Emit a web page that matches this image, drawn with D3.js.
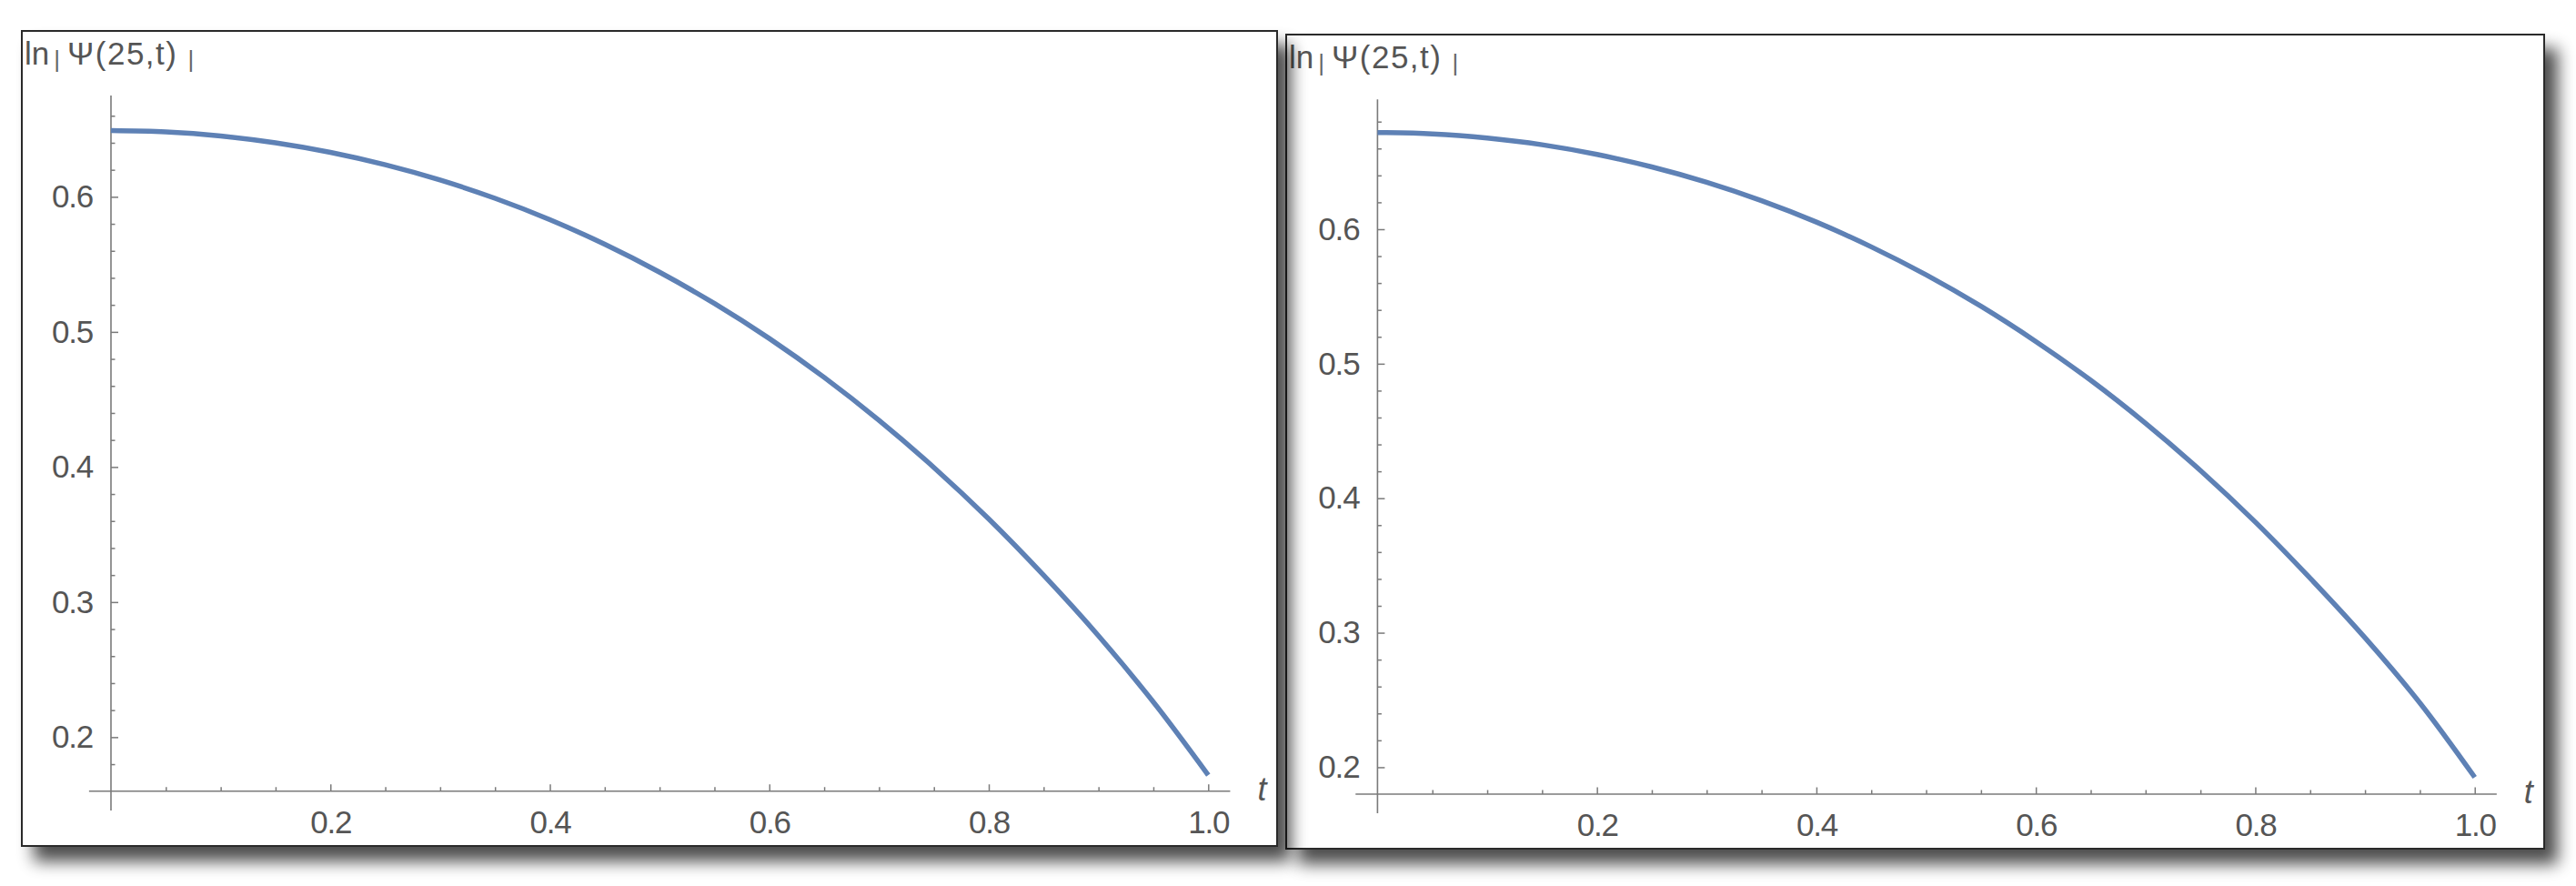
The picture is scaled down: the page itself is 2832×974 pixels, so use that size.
<!DOCTYPE html>
<html>
<head>
<meta charset="utf-8">
<script src="https://cdnjs.cloudflare.com/ajax/libs/d3/7.8.5/d3.min.js"></script>
<style>
  html, body { margin: 0; padding: 0; background: #ffffff; }
  svg { display: block; }
  text { font-family: "Liberation Sans", Arial, sans-serif; }
</style>
</head>
<body>
<svg id="chart" width="2832" height="974"></svg>
<script>
// ---------- data ----------
const tValues = [0, 0.05, 0.1, 0.15, 0.2, 0.25, 0.3, 0.35, 0.4, 0.45, 0.5, 0.55, 0.6, 0.65, 0.7, 0.75, 0.8, 0.85, 0.9, 0.95, 1.0];
const vLeft  = [0.649, 0.648, 0.645, 0.640, 0.6329, 0.6237, 0.6124, 0.5989, 0.5831, 0.5649, 0.5442, 0.521, 0.4951, 0.4663, 0.4345, 0.3996, 0.3615, 0.3198, 0.2750, 0.2260, 0.1719];
const vRight = [0.6719, 0.6709, 0.6678, 0.6628, 0.6556, 0.6463, 0.6349, 0.6212, 0.6053, 0.5869, 0.5661, 0.5427, 0.5165, 0.4877, 0.4557, 0.4206, 0.3823, 0.3405, 0.2962, 0.2478, 0.1925];

const xTickValues = [0.2, 0.4, 0.6, 0.8, 1.0];
const xTickLabels = ["0.2", "0.4", "0.6", "0.8", "1.0"];
const yTickValues = [0.2, 0.3, 0.4, 0.5, 0.6];
const yTickLabels = ["0.2", "0.3", "0.4", "0.5", "0.6"];
const xMinorStep = 0.05;
const yMinorStep = 0.02;
const yAxisLabel = ["ln", "|", "Ψ(25,t)", "|"];
const xAxisLabel = "t";

// ---------- layout ----------
const panels = [
  { // right panel drawn first so the left panel's shadow overlaps it
    frame: {x: 1414, y: 38, w: 1383, h: 895},
    xPix: [1514.4, 2720.7],
    yDomain: [0.1658, 0.6965], yPix: [894, 109.3],
    xAxisAt: 0.18,
    v: vRight
  },
  {
    frame: {x: 24, y: 34, w: 1380, h: 896},
    xPix: [122, 1328.3],
    yDomain: [0.1457, 0.675], yPix: [891, 105],
    xAxisAt: 0.16,
    v: vLeft
  }
];

const svg = d3.select("#chart");
svg.append("rect").attr("width", 2832).attr("height", 974).attr("fill", "#ffffff");

const defs = svg.append("defs");
const f = defs.append("filter").attr("id", "shadow")
  .attr("x", "-5%").attr("y", "-5%").attr("width", "115%").attr("height", "120%");
f.append("feGaussianBlur").attr("in", "SourceAlpha").attr("stdDeviation", 9);
f.append("feOffset").attr("dx", 14).attr("dy", 16).attr("result", "off");
const ct = f.append("feComponentTransfer").attr("in", "off").attr("result", "sh");
ct.append("feFuncA").attr("type", "linear").attr("slope", 0.7);
const fm = f.append("feMerge");
fm.append("feMergeNode").attr("in", "sh");
fm.append("feMergeNode").attr("in", "SourceGraphic");

const AXIS_COLOR = "#7a7a7a";
const TEXT_COLOR = "#555555";
const LINE_COLOR = "#5E81B5";

function range(a, b, step) {
  const out = [];
  const n = Math.round((b - a) / step);
  for (let i = 0; i <= n; i++) out.push(+(a + i * step).toFixed(6));
  return out;
}

panels.forEach(p => {
  const g = svg.append("g");
  const fr = p.frame;
  g.append("rect")
    .attr("x", fr.x).attr("y", fr.y).attr("width", fr.w).attr("height", fr.h)
    .attr("fill", "#ffffff").attr("stroke", "#2b2b2b").attr("stroke-width", 2)
    .attr("filter", "url(#shadow)");

  const x = d3.scaleLinear().domain([0, 1]).range(p.xPix);
  const y = d3.scaleLinear().domain(p.yDomain).range(p.yPix);
  const xAxisY = y(p.xAxisAt);
  const yAxisX = x(0);

  // axis lines
  g.append("line")
    .attr("x1", x(-0.02)).attr("x2", x(1.02))
    .attr("y1", xAxisY).attr("y2", xAxisY)
    .attr("stroke", AXIS_COLOR).attr("stroke-width", 1.6);
  g.append("line")
    .attr("x1", yAxisX).attr("x2", yAxisX)
    .attr("y1", y(p.yDomain[0])).attr("y2", y(p.yDomain[1]))
    .attr("stroke", AXIS_COLOR).attr("stroke-width", 1.6);

  // x ticks
  const xMinor = range(xMinorStep, 1.0, xMinorStep).filter(v => !xTickValues.some(m => Math.abs(m - v) < 1e-6));
  const gxMinor = g.append("g").attr("transform", `translate(0,${xAxisY})`)
    .call(d3.axisBottom(x).tickValues(xMinor).tickSize(-4.5).tickFormat(""));
  const gx = g.append("g").attr("transform", `translate(0,${xAxisY})`)
    .call(d3.axisBottom(x).tickValues(xTickValues).tickSize(-7.5).tickPadding(21)
      .tickFormat((d, i) => xTickLabels[i]));
  [gxMinor, gx].forEach(a => {
    a.select(".domain").remove();
    a.selectAll("line").attr("stroke", AXIS_COLOR).attr("stroke-width", 1.5);
  });
  gx.selectAll("text").attr("font-size", 35).attr("fill", TEXT_COLOR)
    .attr("letter-spacing", -1.2).attr("font-family", "Liberation Sans, Arial, sans-serif");

  // y ticks
  const yMinor = range(0.14, 0.70, yMinorStep)
    .filter(v => v > p.xAxisAt + 1e-6 && v <= p.yDomain[1])
    .filter(v => !yTickValues.some(m => Math.abs(m - v) < 1e-6));
  const gyMinor = g.append("g").attr("transform", `translate(${yAxisX},0)`)
    .call(d3.axisLeft(y).tickValues(yMinor).tickSize(-4.5).tickFormat(""));
  const gy = g.append("g").attr("transform", `translate(${yAxisX},0)`)
    .call(d3.axisLeft(y).tickValues(yTickValues).tickSize(-8).tickPadding(20)
      .tickFormat((d, i) => yTickLabels[i]));
  [gyMinor, gy].forEach(a => {
    a.select(".domain").remove();
    a.selectAll("line").attr("stroke", AXIS_COLOR).attr("stroke-width", 1.5);
  });
  gy.selectAll("text").attr("font-size", 35).attr("fill", TEXT_COLOR)
    .attr("letter-spacing", -1.2).attr("font-family", "Liberation Sans, Arial, sans-serif");

  // curve
  const pts = tValues.map((t, i) => [t, p.v[i]]);
  g.append("path")
    .datum(pts)
    .attr("d", d3.line().x(d => x(d[0])).y(d => y(d[1])).curve(d3.curveCatmullRom.alpha(0.5)))
    .attr("fill", "none").attr("stroke", LINE_COLOR).attr("stroke-width", 5.5)
    .attr("stroke-linecap", "butt").attr("stroke-linejoin", "round");

  // y axis label  ln | Ψ(25,t) |
  const lab = g.append("text")
    .attr("x", fr.x + 3).attr("y", fr.y + 37)
    .attr("fill", TEXT_COLOR).attr("font-size", 35);
  lab.append("tspan").text(yAxisLabel[0]);
  lab.append("tspan").attr("font-size", 26).attr("dx", 5).attr("dy", 3)
    .attr("fill", "#666").text(yAxisLabel[1]);
  lab.append("tspan").attr("font-size", 35).attr("dx", 8).attr("dy", -3)
    .attr("letter-spacing", 1.5).text(yAxisLabel[2]);
  lab.append("tspan").attr("font-size", 26).attr("dx", 11).attr("dy", 3)
    .attr("fill", "#666").text(yAxisLabel[3]);

  // x axis label
  g.append("text")
    .attr("x", x(1.02) + 30).attr("y", xAxisY + 10)
    .attr("fill", TEXT_COLOR).attr("font-size", 36).attr("font-style", "italic")
    .text(xAxisLabel);
});
</script>
</body>
</html>
